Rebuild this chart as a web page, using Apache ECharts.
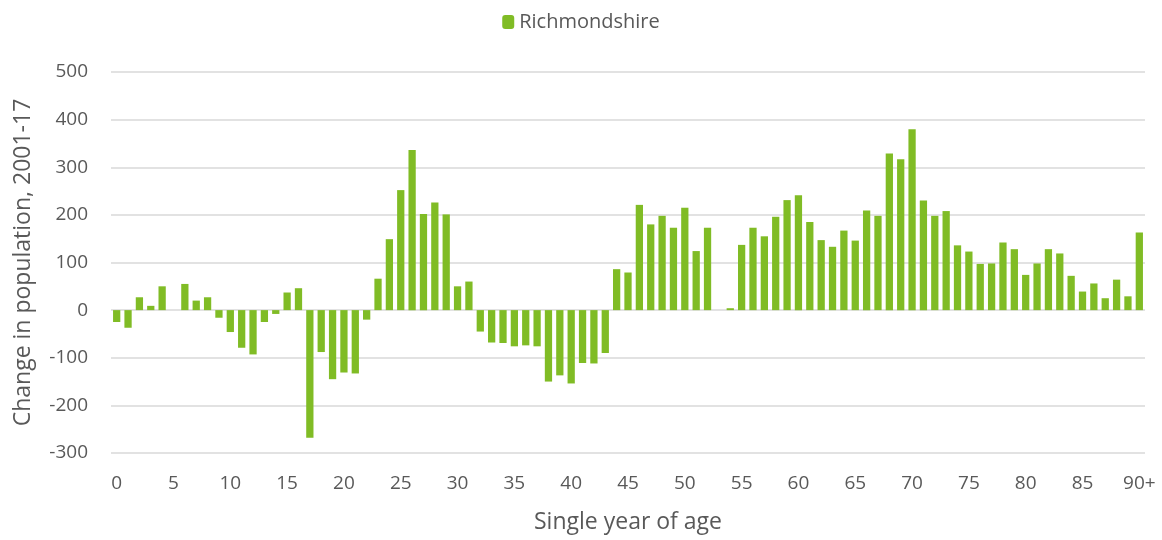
<!DOCTYPE html>
<html>
<head>
<meta charset="utf-8">
<script src="https://cdn.jsdelivr.net/npm/echarts@6/dist/echarts.min.js"></script>
<style>
  html, body { margin: 0; padding: 0; background: #fff; }
  #main { width: 1162px; height: 540px; }
</style>
</head>
<body>
<div id="main"></div>
<script>
// ages 0..89 plus "90+"
var ages = [];
for (var i = 0; i < 90; i++) ages.push(String(i));
ages.push("90+");

// change in population 2001-17
var change = [
  -25, -37, 27, 9, 50, 0, 55, 20, 27, -16,
  -46, -79, -93, -25, -8, 37, 46, -268, -88, -145,
  -131, -133, -20, 66, 149, 252, 336, 202, 226, 201,
  50, 60, -45, -68, -69, -76, -74, -76, -150, -137,
  -154, -111, -112, -90, 86, 79, 221, 180, 198, 173,
  215, 124, 173, 0, 4, 137, 173, 155, 196, 231,
  241, 185, 147, 133, 167, 146, 209, 198, 329, 317,
  380, 230, 198, 208, 136, 123, 97, 98, 142, 128,
  74, 98, 128, 119, 72, 39, 56, 25, 64, 29,
  163
];

var yTicks = { min: -300, max: 500, interval: 100 };

var chart = echarts.init(document.getElementById("main"));

var option = {
  animation: false,
  textStyle: { fontFamily: "'Open Sans', sans-serif", color: "#595959" },
  legend: {
    top: 7,
    left: "center",
    itemWidth: 12,
    itemHeight: 14,
    itemGap: 6,
    textStyle: { fontSize: 20, color: "#595959" },
    data: ["Richmondshire"]
  },
  grid: {
    left: 111,
    right: 17,
    top: 72,
    bottom: 87
  },
  xAxis: {
    type: "category",
    data: ages,
    name: "Single year of age",
    nameLocation: "middle",
    nameGap: 58,
    nameTextStyle: { fontSize: 23, color: "#595959" },
    axisLine: { show: false, onZero: false },
    axisTick: { show: false },
    axisLabel: {
      interval: 4,
      fontSize: 19,
      color: "#595959",
      margin: 21
    }
  },
  yAxis: {
    type: "value",
    min: yTicks.min,
    max: yTicks.max,
    interval: yTicks.interval,
    name: "Change in population, 2001-17",
    nameLocation: "middle",
    nameGap: 76,
    nameTextStyle: { fontSize: 23, color: "#595959" },
    axisLine: { show: false },
    axisTick: { show: false },
    axisLabel: { fontSize: 19, color: "#595959", margin: 23 },
    splitLine: { lineStyle: { color: "#d9d9d9", width: 1.5 } }
  },
  series: [
    {
      name: "Richmondshire",
      type: "bar",
      data: change,
      barCategoryGap: "36%",
      itemStyle: { color: "#80bc25" }
    }
  ]
};

chart.setOption(option);
</script>
</body>
</html>
